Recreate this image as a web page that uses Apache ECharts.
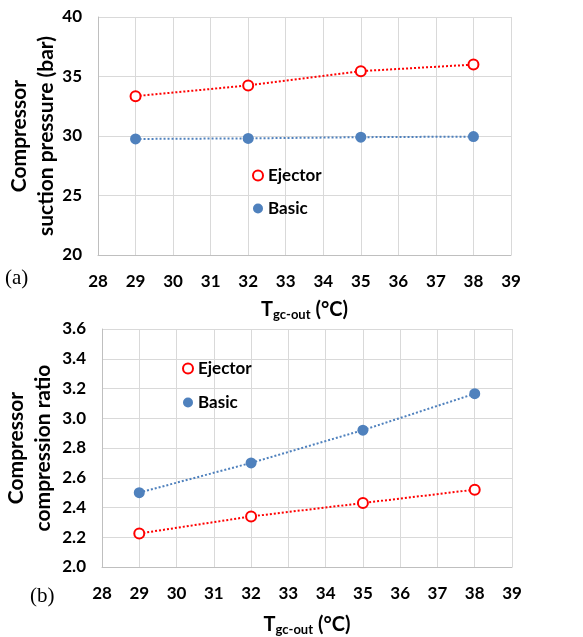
<!DOCTYPE html>
<html><head><meta charset="utf-8">
<script src="https://cdn.jsdelivr.net/npm/echarts@6/dist/echarts.min.js"></script>
<style>html,body{margin:0;padding:0;background:#fff}#c{width:583px;height:637px}</style>
</head><body><div id="c"></div>
<script>
const temps = [29, 32, 35, 38];
const suctionEjector = [33.35, 34.25, 35.45, 36.0];
const suctionBasic = [29.75, 29.8, 29.9, 29.95];
const ratioEjector = [2.225, 2.34, 2.43, 2.52];
const ratioBasic = [2.5, 2.7, 2.92, 3.165];
const xTicks = {min: 28, max: 39, interval: 1};
const yTopTicks = {min: 20, max: 40, interval: 5};
const yBotTicks = {min: 2.0, max: 3.6, interval: 0.2};

const RED = '#ff0000', BLUE = '#4f81bd';
const FONT = 'Lato';
const pairs = (xs, ys) => xs.map((x, i) => [x, ys[i]]);

const xAxisBase = (gi, gap) => ({
  gridIndex: gi, type: 'value', min: xTicks.min, max: xTicks.max, interval: xTicks.interval,
  axisLine: {show: true, lineStyle: {color: '#bfbfbf', width: 1}},
  axisTick: {show: false},
  splitLine: {show: true, lineStyle: {color: '#d9d9d9', width: 1}},
  axisLabel: {color: '#000', fontFamily: FONT, fontWeight: 'bold', fontSize: 17, margin: 18},
  name: '{t|T}{s|gc-out}{t| (°C)}', nameLocation: 'middle', nameGap: gap, nameMoveOverlap: false,
  nameTextStyle: {rich: {
    t: {fontFamily: FONT, fontWeight: 'bold', fontSize: 20, color: '#000'},
    s: {fontFamily: FONT, fontWeight: 'bold', fontSize: 13, color: '#000', padding: [9, 0, 0, 0]}
  }}
});
const yAxisBase = (gi, t, name, gap, fmt) => ({
  gridIndex: gi, type: 'value', min: t.min, max: t.max, interval: t.interval,
  axisLine: {show: true, lineStyle: {color: '#bfbfbf', width: 1}},
  axisTick: {show: false},
  splitLine: {show: true, lineStyle: {color: '#d9d9d9', width: 1}},
  axisLabel: {color: '#000', fontFamily: FONT, fontWeight: 'bold', fontSize: 17, margin: 16, formatter: fmt},
  name: name, nameLocation: 'middle', nameGap: gap, nameMoveOverlap: false,
  nameTextStyle: {color: '#000', fontFamily: FONT, fontWeight: 'bold', fontSize: 21, lineHeight: 27}
});
const ejectorSeries = (xi, data) => ({
  name: 'Ejector', type: 'line', xAxisIndex: xi, yAxisIndex: xi, data: data,
  symbol: 'circle', symbolSize: 10,
  itemStyle: {color: '#fff', borderColor: RED, borderWidth: 2},
  lineStyle: {color: RED, width: 2, type: 'dotted'}, z: 3
});
const basicSeries = (xi, data) => ({
  name: 'Basic', type: 'line', xAxisIndex: xi, yAxisIndex: xi, data: data,
  symbol: 'circle', symbolSize: 11,
  itemStyle: {color: BLUE, borderColor: BLUE, borderWidth: 0},
  lineStyle: {color: BLUE, width: 2, type: 'dotted'}, z: 3
});
const legendBase = (left, top, gap) => ({
  left: left, top: top, orient: 'vertical', icon: 'circle', itemWidth: 10, itemHeight: 10, itemGap: gap,
  data: ['Ejector', 'Basic'], selectedMode: false,
  textStyle: {color: '#000', fontFamily: FONT, fontWeight: 'bold', fontSize: 17}
});

const chart = echarts.init(document.getElementById('c'), null, {renderer: 'canvas'});
chart.setOption({
  animation: false,
  backgroundColor: '#fff',
  grid: [
    {left: 98, top: 17, width: 413, height: 238, outerBoundsMode: 'none', containLabel: false},
    {left: 102, top: 329, width: 410, height: 238, outerBoundsMode: 'none', containLabel: false}
  ],
  xAxis: [xAxisBase(0, 44), xAxisBase(1, 47)],
  yAxis: [
    yAxisBase(0, yTopTicks, 'Compressor\nsuction pressure (bar)', 38, v => String(v)),
    yAxisBase(1, yBotTicks, 'Compressor\ncompression ratio', 45, v => v.toFixed(1))
  ],
  legend: [legendBase(247, 162, 16), legendBase(177, 355, 17)],
  series: [
    ejectorSeries(0, pairs(temps, suctionEjector)),
    basicSeries(0, pairs(temps, suctionBasic)),
    ejectorSeries(1, pairs(temps, ratioEjector)),
    basicSeries(1, pairs(temps, ratioBasic))
  ],
  graphic: [
    {type: 'text', left: 5, top: 268, style: {text: '(a)', fontFamily: 'Liberation Serif', fontSize: 21, fill: '#000'}},
    {type: 'text', left: 30, top: 586, style: {text: '(b)', fontFamily: 'Liberation Serif', fontSize: 21, fill: '#000'}}
  ]
});
</script></body></html>
